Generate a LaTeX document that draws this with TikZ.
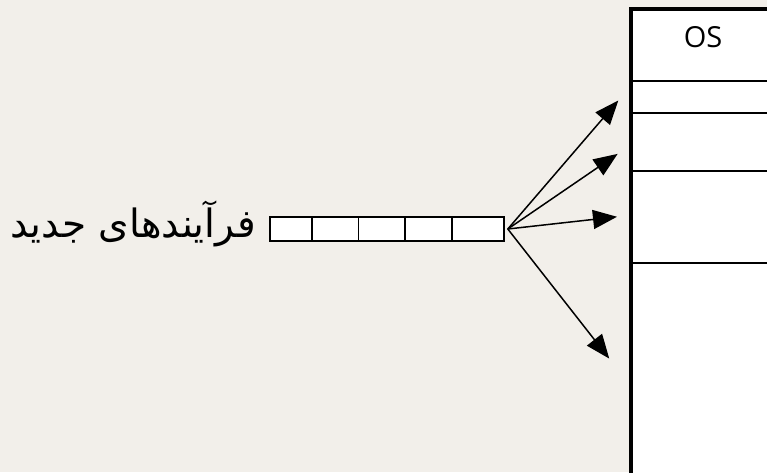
\documentclass[tikz,border=0pt]{standalone}
\usepackage{fontspec}
\setmainfont{Open Sans}
\newfontfamily\arabicfont[Script=Arabic]{DejaVu Sans}
\TeXXeTstate=1
\usetikzlibrary{arrows.meta}
\definecolor{bg}{HTML}{F2EFEA}
\tikzset{
  cell/.style={draw=black, fill=white, line width=1.6pt, minimum width=46.6pt, minimum height=24pt, inner sep=0pt, outer sep=0pt},
  arr/.style={-{Triangle[length=24pt,width=19pt]}, line width=1.5pt, shorten >=-2pt},
  sep/.style={line width=1.6pt}
}
\begin{document}
\begin{tikzpicture}[x=1pt,y=-1pt]
\useasboundingbox[fill=bg] (0,0) rectangle (767,472);
% memory
\fill[white] (631,9) rectangle (770,475);
\draw[line width=3.5pt] (631,475) -- (631,9) -- (770,9);
\draw[line width=2.8pt] (631,81) -- (770,81);
\draw[sep] (631,113) -- (770,113);
\draw[sep] (631,171) -- (770,171);
\draw[sep] (631,263) -- (770,263);
\node (os) at (703,37) {\fontsize{29}{33}\selectfont OS};
\coordinate (t1) at (617,102);
\coordinate (t2) at (616,155);
\coordinate (t3) at (615,217);
\coordinate (t4) at (608,357);
% queue
\node[cell, minimum width=42pt] (c1) at (291,229) {};
\node[cell, anchor=west] (c2) at (c1.east) {};
\node[cell, anchor=west] (c3) at (c2.east) {};
\node[cell, anchor=west] (c4) at (c3.east) {};
\node[cell, anchor=west, minimum width=52pt] (c5) at (c4.east) {};
\node[anchor=east, inner sep=0pt] (lbl) at (256,224) {\arabicfont\fontsize{39}{44}\selectfont\beginR فرآیندهای جدید\endR};
\coordinate (o) at ([xshift=4pt]c5.east);
\foreach \t in {t1,t2,t3,t4} \draw[arr] (o) -- (\t);
\end{tikzpicture}
\end{document}
